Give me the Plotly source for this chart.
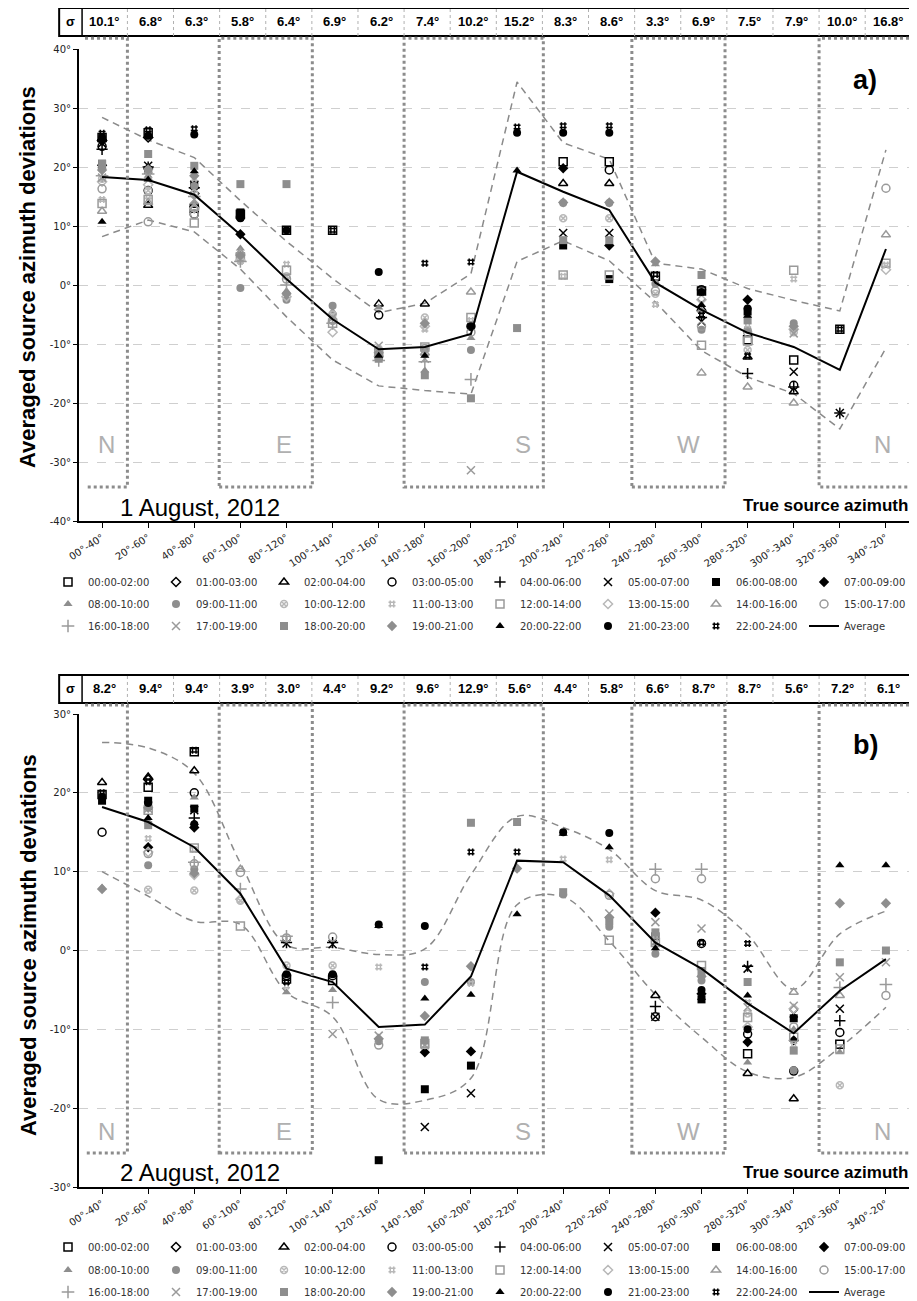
import plotly.graph_objects as go

# ---------------- categories & table values ----------------
categories = ["00°-40°", "20°-60°", "40°-80°", "60°-100°", "80°-120°", "100°-140°",
              "120°-160°", "140°-180°", "160°-200°", "180°-220°", "200°-240°", "220°-260°",
              "240°-280°", "260°-300°", "280°-320°", "300°-340°", "320°-360°", "340°-20°"]

sigma_a = [10.1, 6.8, 6.3, 5.8, 6.4, 6.9, 6.2, 7.4, 10.2, 15.2, 8.3, 8.6, 3.3, 6.9, 7.5, 7.9, 10.0, 16.8]
sigma_a_labels = ["10.1°", "6.8°", "6.3°", "5.8°", "6.4°", "6.9°", "6.2°", "7.4°", "10.2°", "15.2°",
                  "8.3°", "8.6°", "3.3°", "6.9°", "7.5°", "7.9°", "10.0°", "16.8°"]
sigma_b = [8.2, 9.4, 9.4, 3.9, 3.0, 4.4, 9.2, 9.6, 12.9, 5.6, 4.4, 5.8, 6.6, 8.7, 8.7, 5.6, 7.2, 6.1]
sigma_b_labels = ["8.2°", "9.4°", "9.4°", "3.9°", "3.0°", "4.4°", "9.2°", "9.6°", "12.9°", "5.6°",
                  "4.4°", "5.8°", "6.6°", "8.7°", "8.7°", "5.6°", "7.2°", "6.1°"]

avg_a = [18.3, 17.8, 15.3, 8.5, 1.0, -5.8, -10.9, -10.5, -8.3, 19.2, 15.8, 12.7, 0.4, -4.2, -8.1, -10.5, -14.4, 6.1]
avg_b = [18.2, 16.3, 13.1, 7.2, -2.3, -4.0, -9.7, -9.4, -3.3, 11.4, 11.2, 7.0, 1.0, -2.3, -6.7, -10.5, -5.1, -1.1]

series_names = ["00:00-02:00", "01:00-03:00", "02:00-04:00", "03:00-05:00", "04:00-06:00",
                "05:00-07:00", "06:00-08:00", "07:00-09:00", "08:00-10:00", "09:00-11:00",
                "10:00-12:00", "11:00-13:00", "12:00-14:00", "13:00-15:00", "14:00-16:00",
                "15:00-17:00", "16:00-18:00", "17:00-19:00", "18:00-20:00", "19:00-21:00",
                "20:00-22:00", "21:00-23:00", "22:00-24:00"]

N = None
# ---------------- 1 August 2012 ----------------
a_00_02 = [25.0, 25.8, 13.0, 12.0, 9.3, 9.3, N, N, N, N, 20.9, 20.9, 1.5, -1.0, -9.3, -12.7, -7.5, N]
a_01_03 = [24.5, 25.0, 15.5, N, N, N, N, N, N, N, N, N, N, N, N, N, N, N]
a_02_04 = [24.8, 13.5, 13.5, N, N, N, -3.2, -3.2, N, N, 17.2, 17.2, N, -4.0, -12.2, -18.1, N, N]
a_03_05 = [23.5, 16.0, 12.0, 11.5, N, N, -5.1, N, -7.0, N, N, 19.5, N, -0.8, N, -17.0, N, N]
a_04_06 = [23.0, 20.0, 16.5, N, N, N, N, N, N, N, N, N, N, -5.5, -15.0, -17.3, -21.7, N]
a_05_07 = [24.0, 20.2, 17.0, N, N, N, N, N, N, N, 8.8, 8.8, N, -6.2, N, -14.7, -21.7, N]
a_06_08 = [20.5, 19.5, 17.0, 12.3, N, N, -12.0, N, N, N, 6.7, 1.0, N, N, -4.5, N, N, N]
a_07_09 = [20.3, 19.8, 16.5, 8.6, N, N, N, N, N, N, 19.8, 6.7, N, N, -2.5, N, N, N]
a_08_10 = [20.0, 18.5, 14.0, 6.2, -1.0, -4.5, -3.8, -14.5, -9.0, N, N, N, 3.5, N, N, N, N, N]
a_09_11 = [19.7, 19.5, 16.8, -0.5, -2.5, -3.5, -11.0, -11.0, -11.0, N, 13.9, 13.9, 0.2, -7.6, -7.6, -6.5, N, N]
a_10_12 = [18.0, 16.0, 15.5, 4.5, 1.5, -5.0, -10.8, -5.5, N, N, 11.3, 11.3, -1.5, N, -11.0, -8.0, N, N]
a_11_13 = [14.5, 15.0, 18.0, 4.0, 3.5, -5.5, -12.2, -7.5, -6.0, N, 1.5, N, -3.3, N, -6.8, 1.0, N, 3.4]
a_12_14 = [13.8, 14.5, 10.5, 4.8, 2.5, -6.5, -11.5, -10.5, -5.5, N, 1.7, 1.7, N, -10.2, -9.5, 2.5, N, 3.7]
a_13_15 = [17.5, 17.0, 13.0, 4.2, -2.0, -8.0, N, -7.0, N, N, N, N, N, -2.5, N, -7.5, N, 2.6]
a_14_16 = [12.5, 14.0, 13.0, 5.5, N, -6.0, -11.8, -11.5, -1.2, N, N, N, N, -14.9, -17.3, -20.0, N, 8.5]
a_15_17 = [16.3, 10.7, 12.0, N, 1.0, -6.0, N, -10.8, -8.0, N, N, N, -1.0, -7.0, -8.0, N, N, 16.4]
a_16_18 = [18.5, 18.8, 15.0, 4.0, 0.0, -6.5, -12.8, -13.0, -16.0, N, N, N, N, N, N, N, N, N]
a_17_19 = [18.2, 18.5, 14.5, N, N, -5.5, -10.3, -12.5, -31.4, N, N, N, N, -3.0, N, -8.2, N, N]
a_18_20 = [20.6, 22.2, 20.2, 17.1, 17.1, N, -12.5, -15.3, -19.2, -7.3, 7.6, 7.6, N, 1.7, -6.0, N, N, N]
a_19_21 = [19.5, 19.6, 18.5, 5.0, -1.5, N, -11.5, -6.5, N, N, 14.0, 14.0, 4.0, -4.5, N, -7.0, N, N]
a_20_22 = [10.7, 17.9, 19.3, N, N, N, -12.0, -12.0, N, 19.4, N, N, N, -3.4, -5.2, N, N, N]
a_21_23 = [25.0, 25.3, 25.5, 11.3, 9.3, N, 2.2, N, -7.0, 25.8, 25.8, 25.8, N, -1.2, -4.0, N, N, N]
a_22_24 = [25.7, 26.3, 26.5, N, N, 9.3, N, 3.7, 3.9, 26.8, 27.0, 27.0, 1.8, -5.1, -12.0, N, -7.5, N]

# ---------------- 2 August 2012 ----------------
b_00_02 = [19.8, 20.7, 25.2, N, -3.6, -3.8, N, N, N, N, N, N, N, N, -13.1, N, -11.9, N]
b_01_03 = [N, 21.7, N, N, N, N, N, N, N, N, N, N, N, N, N, N, N, N]
b_02_04 = [21.3, 22.0, 22.8, N, N, N, N, N, N, N, N, N, -5.7, N, -15.6, -18.8, N, N]
b_03_05 = [15.0, N, 20.0, N, -3.2, -3.2, N, N, N, N, N, N, -8.4, 0.9, -10.6, -15.3, -10.4, N]
b_04_06 = [N, N, 16.8, N, 1.0, 1.0, N, N, N, N, N, N, -7.1, N, -2.0, N, -8.9, N]
b_05_07 = [N, 18.4, 17.8, N, 0.9, 0.8, N, -22.4, -18.1, N, N, N, -8.4, N, -2.3, -8.0, -7.4, N]
b_06_08 = [19.0, 19.0, 18.0, N, N, N, -26.6, -17.6, -14.6, N, N, N, 1.8, -6.2, N, -8.6, N, N]
b_07_09 = [N, 13.1, 15.6, N, N, N, N, -12.9, -12.8, N, N, N, 4.8, -5.5, -11.6, -11.4, N, N]
b_08_10 = [8.0, 16.4, 19.4, N, -5.3, -5.0, N, N, N, N, N, N, 0.9, -3.0, -14.2, -10.0, -12.9, N]
b_09_11 = [N, 10.8, 10.3, N, N, N, -11.5, -4.0, -4.0, N, 7.1, 3.0, -0.4, -3.8, N, -15.2, N, N]
b_10_12 = [N, 7.7, 7.6, 6.3, -1.9, -1.9, N, -12.0, N, N, N, N, N, N, -8.0, N, -17.1, N]
b_11_13 = [N, 14.2, 12.8, N, -4.5, N, -2.1, N, -4.2, N, 11.6, 11.5, 1.5, N, -6.6, -12.0, N, N]
b_12_14 = [N, 17.8, 13.0, 3.1, N, N, N, -11.8, N, N, N, 1.3, 1.0, -1.9, -8.5, -11.0, -12.5, N]
b_13_15 = [N, 12.5, 9.6, 6.5, N, N, N, N, N, N, N, 7.2, N, N, -9.7, -7.4, N, N]
b_14_16 = [N, N, N, 10.3, N, N, N, N, N, N, N, N, N, N, N, -5.3, -5.7, N]
b_15_17 = [N, 12.3, 11.0, 9.9, 1.6, 1.7, -12.0, N, N, N, N, 7.0, 9.1, 9.1, N, -9.7, N, -5.7]
b_16_18 = [N, N, 11.2, 7.8, 1.8, -6.6, N, N, N, N, N, N, 10.3, 10.3, N, N, -4.7, -4.3]
b_17_19 = [N, 18.0, N, N, N, -10.6, -10.8, -12.0, N, N, N, 4.7, 3.6, 2.8, -7.2, -7.0, -3.4, -1.5]
b_18_20 = [N, 15.9, N, N, N, N, N, -11.4, 16.2, 16.3, 7.4, 3.7, 2.3, -2.6, -4.0, -12.7, -1.5, 0.0]
b_19_21 = [7.8, 18.1, 9.8, N, N, N, -11.2, -8.3, -2.0, 10.4, N, 4.2, N, -3.3, N, N, 6.0, 6.0]
b_20_22 = [N, 16.8, 16.2, N, N, N, 3.1, -6.1, -5.6, 4.6, 14.8, 13.1, 0.3, -6.0, -5.7, N, 10.8, 10.8]
b_21_23 = [19.5, 18.7, 16.0, N, -3.0, -3.0, 3.3, 3.1, N, N, 15.0, 14.9, N, -5.0, -10.0, N, N, N]
b_22_24 = [20.0, 21.4, 25.4, N, -4.0, N, N, -2.1, 12.5, 12.5, N, N, N, 1.0, 0.9, N, N, N]

series_a = [a_00_02, a_01_03, a_02_04, a_03_05, a_04_06, a_05_07, a_06_08, a_07_09, a_08_10,
            a_09_11, a_10_12, a_11_13, a_12_14, a_13_15, a_14_16, a_15_17, a_16_18, a_17_19,
            a_18_20, a_19_21, a_20_22, a_21_23, a_22_24]
series_b = [b_00_02, b_01_03, b_02_04, b_03_05, b_04_06, b_05_07, b_06_08, b_07_09, b_08_10,
            b_09_11, b_10_12, b_11_13, b_12_14, b_13_15, b_14_16, b_15_17, b_16_18, b_17_19,
            b_18_20, b_19_21, b_20_22, b_21_23, b_22_24]

compass = ["N", "E", "S", "W", "N"]
compass_pos = [0.1, 3.95, 9.12, 12.72, 16.92]

# ---------------- styles ----------------
BLACK = "#000000"
GRAY = "#8e8e8e"
GRAY2 = "#9a9a9a"
LIGHT = "#b8b8b8"
styles = [
    ("square-open", BLACK, 8), ("diamond-open", BLACK, 7), ("triangle-up-open", BLACK, 8),
    ("circle-open", BLACK, 8), ("cross-thin-open", BLACK, 8), ("x-thin-open", BLACK, 8),
    ("square", BLACK, 8), ("diamond", BLACK, 8), ("triangle-up", GRAY, 8),
    ("circle", GRAY, 8), ("circle-x-open", LIGHT, 7), ("hash-open", LIGHT, 7),
    ("square-open", GRAY2, 8), ("diamond-open", LIGHT, 7), ("triangle-up-open", GRAY2, 8),
    ("circle-open", GRAY2, 8), ("cross-thin-open", GRAY2, 9), ("x-thin-open", GRAY2, 8),
    ("square", GRAY, 8), ("diamond", GRAY, 8), ("triangle-up", BLACK, 8),
    ("circle", BLACK, 8), ("hash-open", BLACK, 7),
]

# The page body has an 8px margin: lay the figure out in page pixels minus that offset.
OFF = 8
W, H = 917 - OFF, 1301 - OFF


def px_x(px):
    return (px - OFF) / W


def px_y(py):
    return 1 - (py - OFF) / H


x = list(range(len(categories)))

fig = go.Figure()

panels = [
    dict(xa="x", ya="y", series=series_a, avg=avg_a, sig=sigma_a, sig_lab=sigma_a_labels,
         legends=["legend", "legend2", "legend3"], shape="linear",
         dom=(49, 521), yr=(-40, 40), ystep=10, comp_y=-27,
         rect_top=1.023, rect_bot=0.072, tab=(1.0275, 1.087),
         date="1 August, 2012", date_y=507, tsa_y=505, tag="a)", tag_y=80,
         leg_rows=[582, 604, 626], title_y=277),
    dict(xa="x2", ya="y2", series=series_b, avg=avg_b, sig=sigma_b, sig_lab=sigma_b_labels,
         legends=["legend4", "legend5", "legend6"], shape="spline",
         dom=(714, 1187), yr=(-30, 30), ystep=10, comp_y=-23,
         rect_top=1.019, rect_bot=0.072, tab=(1.0233, 1.0825),
         date="2 August, 2012", date_y=1172, tsa_y=1172, tag="b)", tag_y=745,
         leg_rows=[1247, 1270, 1292], title_y=945),
]

shapes = []
annotations = []
layout_extra = {}

for p in panels:
    # dashed sigma envelope
    upper = [a + s for a, s in zip(p["avg"], p["sig"])]
    lower = [a - s for a, s in zip(p["avg"], p["sig"])]
    for env in (upper, lower):
        fig.add_trace(go.Scatter(x=x, y=env, mode="lines", xaxis=p["xa"], yaxis=p["ya"],
                                 line=dict(color="#8a8a8a", width=1.5, dash="7px,5px", shape=p["shape"]),
                                 showlegend=False, hoverinfo="skip"))
    # series markers
    for i, (name, vals) in enumerate(zip(series_names, p["series"])):
        sym, col, size = styles[i]
        open_sym = "open" in sym
        fig.add_trace(go.Scatter(
            x=x, y=vals, mode="markers", name=name, xaxis=p["xa"], yaxis=p["ya"],
            legend=p["legends"][i // 8],
            marker=dict(symbol=sym, size=size, color=col,
                        line=dict(color=col, width=1.5 if open_sym else 0)),
        ))
    # average line
    fig.add_trace(go.Scatter(x=x, y=p["avg"], mode="lines", name="Average",
                             xaxis=p["xa"], yaxis=p["ya"], legend=p["legends"][2],
                             line=dict(color="black", width=2)))

    xd = p["xa"] + " domain"
    yd = p["ya"] + " domain"
    t0, t1 = p["tab"]
    # sigma table
    shapes.append(dict(type="rect", xref=xd, yref=yd, x0=-0.0239, x1=1.0028, y0=t0, y1=t1,
                       line=dict(color="black", width=2), layer="above"))
    shapes.append(dict(type="line", xref=xd, yref=yd, x0=0.0037, x1=0.0037, y0=t0, y1=t1,
                       line=dict(color="black", width=1.5)))
    for k in range(len(categories) - 1):
        xx = (k + 1.05) / 18
        shapes.append(dict(type="line", xref=xd, yref=yd, x0=xx, x1=xx, y0=t0, y1=t1,
                           line=dict(color="#b0b0b0", width=1, dash="dot")))
    annotations.append(dict(text="<b>σ</b>", xref=xd, yref=yd, x=-0.0101, y=(t0 + t1) / 2,
                            xanchor="center", yanchor="middle", showarrow=False,
                            font=dict(family="Liberation Sans", size=13, color="black")))
    for k, lab in enumerate(p["sig_lab"]):
        annotations.append(dict(text="<b>%s</b>" % lab, xref=xd, yref=yd, x=(k + 0.55) / 18,
                                y=(t0 + t1) / 2, xanchor="center", yanchor="middle", showarrow=False,
                                font=dict(family="Liberation Sans", size=13, color="black")))
    # dotted compass regions
    rt, rb = p["rect_top"], p["rect_bot"]
    dline = dict(color="#8c8c8c", width=3, dash="dot")
    shapes.append(dict(type="path", xref=p["xa"], yref=yd,
                       path="M -0.37 %f L 0.55 %f L 0.55 %f L -0.37 %f" % (rt, rt, rb, rb), line=dline))
    for x0, x1 in [(2.54, 4.56), (6.55, 9.57), (11.49, 13.51)]:
        shapes.append(dict(type="rect", xref=p["xa"], yref=yd, x0=x0, x1=x1, y0=rb, y1=rt, line=dline))
    shapes.append(dict(type="path", xref=p["xa"], yref=yd,
                       path="M 17.5 %f L 15.55 %f L 15.55 %f L 17.5 %f" % (rt, rt, rb, rb), line=dline))
    for lab, cx in zip(compass, compass_pos):
        annotations.append(dict(text=lab, xref=p["xa"], yref=p["ya"], x=cx, y=p["comp_y"],
                                xanchor="center", yanchor="middle",
                                showarrow=False, font=dict(family="Liberation Sans", size=24, color="#b0b0b0")))
    # texts
    annotations.append(dict(text=p["date"], xref="paper", yref="paper", x=px_x(118), y=px_y(p["date_y"]),
                            xanchor="left", yanchor="middle", showarrow=False,
                            font=dict(family="Liberation Sans", size=24, color="black")))
    annotations.append(dict(text="<b>True source azimuth</b>", xref="paper", yref="paper", x=px_x(910),
                            y=px_y(p["tsa_y"]), xanchor="right", yanchor="middle", showarrow=False,
                            font=dict(family="Liberation Sans", size=17, color="black")))
    annotations.append(dict(text="<b>%s</b>" % p["tag"], xref="paper", yref="paper", x=px_x(865),
                            y=px_y(p["tag_y"]), xanchor="center", yanchor="middle", showarrow=False,
                            font=dict(family="Liberation Sans", size=27, color="black")))
    annotations.append(dict(text="<b>Averaged source azimuth deviations</b>", xref="paper", yref="paper",
                            x=px_x(28), y=px_y(p["title_y"]), textangle=-90, showarrow=False,
                            xanchor="center", yanchor="middle",
                            font=dict(family="Liberation Sans", size=22, color="black")))
    # axes
    top, bot = p["dom"]
    yvals = list(range(p["yr"][0], p["yr"][1] + 1, p["ystep"]))
    xkey = "xaxis" if p["xa"] == "x" else "xaxis2"
    ykey = "yaxis" if p["ya"] == "y" else "yaxis2"
    layout_extra[xkey] = dict(domain=[px_x(79), px_x(909)], range=[-0.5, 17.5], anchor=p["ya"],
                              tickvals=x, ticktext=categories, tickangle=-33, ticks="outside",
                              ticklen=5, tickcolor="black", showline=True, linecolor="black",
                              linewidth=2, showgrid=False, zeroline=False,
                              tickfont=dict(family="DejaVu Sans", size=10, color="#222"))
    layout_extra[ykey] = dict(domain=[px_y(bot), px_y(top)], range=list(p["yr"]), anchor=p["xa"],
                              tickvals=yvals, ticktext=["%d°" % v for v in yvals], ticks="outside",
                              ticklen=4, tickcolor="black", showline=True, linecolor="black",
                              linewidth=2, showgrid=True, gridcolor="#cfcfcf", griddash="dash",
                              gridwidth=1, zeroline=False,
                              tickfont=dict(family="DejaVu Sans", size=10, color="#222"))
    # legends
    for lg, row in zip(p["legends"], p["leg_rows"]):
        layout_extra[lg] = dict(orientation="h", x=px_x(48), xanchor="left", y=px_y(row),
                                yanchor="middle", entrywidth=63, entrywidthmode="pixels",
                                bgcolor="rgba(0,0,0,0)", itemwidth=30, traceorder="normal",
                                font=dict(family="DejaVu Sans", size=10, color="#333"))

fig.update_layout(
    width=W, height=H,
    margin=dict(l=0, r=0, t=0, b=0, autoexpand=False),
    paper_bgcolor="white", plot_bgcolor="white",
    shapes=shapes, annotations=annotations,
    **layout_extra,
)

fig.write_html("out.html")
